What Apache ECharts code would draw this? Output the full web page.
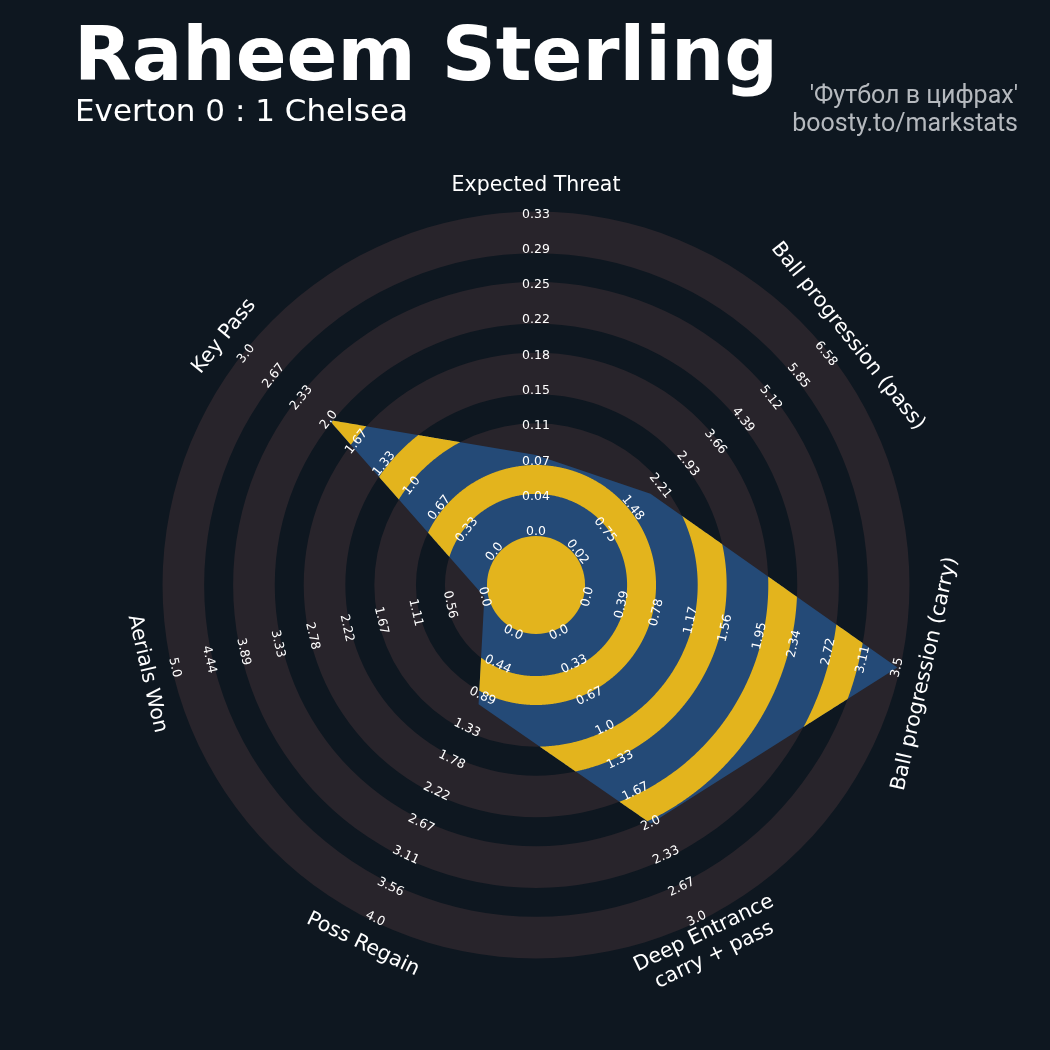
<!DOCTYPE html>
<html>
<head>
<meta charset="utf-8">
<script src="https://cdn.jsdelivr.net/npm/echarts@6/dist/echarts.min.js"></script>
<style>
  html, body { margin: 0; padding: 0; background: #0e1720; }
  #chart { width: 1050px; height: 1050px; }
</style>
</head>
<body>
<div id="chart"></div>
<script>
// radar params, clockwise from the top
const params = [
  'Expected Threat',
  'Ball progression (pass)',
  'Ball progression (carry)',
  'Deep Entrance\ncarry + pass',
  'Poss Regain',
  'Aerials Won',
  'Key Pass'
];
const values = [0.08, 1.95, 3.5, 2.0, 1.0, 0.0, 2.0];
const lowValues = [0, 0.02, 0, 0, 0, 0, 0];
const highValues = [0.33, 6.58, 3.5, 3.0, 4.0, 5.0, 3.0];
const rangeLabels = [
  ['0.0', '0.04', '0.07', '0.11', '0.15', '0.18', '0.22', '0.25', '0.29', '0.33'],
  ['0.02', '0.75', '1.48', '2.21', '2.93', '3.66', '4.39', '5.12', '5.85', '6.58'],
  ['0.0', '0.39', '0.78', '1.17', '1.56', '1.95', '2.34', '2.72', '3.11', '3.5'],
  ['0.0', '0.33', '0.67', '1.0', '1.33', '1.67', '2.0', '2.33', '2.67', '3.0'],
  ['0.0', '0.44', '0.89', '1.33', '1.78', '2.22', '2.67', '3.11', '3.56', '4.0'],
  ['0.0', '0.56', '1.11', '1.67', '2.22', '2.78', '3.33', '3.89', '4.44', '5.0'],
  ['0.0', '0.33', '0.67', '1.0', '1.33', '1.67', '2.0', '2.33', '2.67', '3.0']
];

const bgColor = '#0e1720';
const ringColor = '#28242b';
const blue = '#244a77';
const yellow = '#e3b41d';

// radius units of the polar system (1 unit = one label step)
const centerCircle = 1.39;
const zeroRadius = 1.5;
const steps = 9;
const outerRadius = 10.58;
const greyRings = [[1.39, 2.58], [3.4, 4.58], [5.4, 6.58], [7.4, 8.58], [9.4, 10.58]];
const labelRadius = 11.3;

const n = params.length;
const seg = 360 / n;
const angles = params.map((p, i) => i * seg);
const radii = values.map((v, i) => zeroRadius + steps * (v - lowValues[i]) / (highValues[i] - lowValues[i]));

function rad(d) { return d * Math.PI / 180; }
function norm(d) { return ((d % 360) + 360) % 360; }

// distance from centre to the radar polygon along angle theta
function polyRadius(theta) {
  theta = norm(theta);
  const i = Math.min(Math.floor(theta / seg), n - 1);
  const j = (i + 1) % n;
  const px = radii[i] * Math.sin(rad(angles[i])), py = radii[i] * Math.cos(rad(angles[i]));
  const qx = radii[j] * Math.sin(rad(angles[j])), qy = radii[j] * Math.cos(rad(angles[j]));
  const ex = qx - px, ey = qy - py;
  const dx = Math.sin(rad(theta)), dy = Math.cos(rad(theta));
  return (px * ey - py * ex) / (dx * ey - dy * ex);
}

const N = 240; // samples per radar edge

function crossing(a, lo, hi) {
  // lo outside (R <= a), hi inside
  for (let k = 0; k < 40; k++) {
    const mid = (lo + hi) / 2;
    if (polyRadius(mid) > a) hi = mid; else lo = mid;
  }
  return (lo + hi) / 2;
}

// pieces of the gap [a, b] that lie inside the radar polygon
function bandPieces(api, a, b) {
  const pt = (r, th) => api.coord([r, norm(th)]);
  const minR = Math.min.apply(null, radii);
  if (minR >= b) {
    return [{ type: 'ring', full: true }];
  }
  const start = angles[radii.indexOf(minR)];
  const M = n * N;
  const pieces = [];
  let cur = null, enter = 0;
  for (let s = 0; s <= M; s++) {
    const th = start + 360 * s / M;
    const inside = polyRadius(th) > a;
    if (inside && !cur) {
      enter = crossing(a, th - 360 / M, th);
      cur = [pt(a, enter)];
    }
    if (inside) {
      cur.push(pt(Math.min(polyRadius(th), b), th));
    } else if (cur) {
      const exit = crossing(a, th, th - 360 / M);
      cur.push(pt(a, exit));
      const arcSteps = Math.max(2, Math.ceil((exit - enter) / 0.5));
      for (let k = arcSteps - 1; k > 0; k--) {
        cur.push(pt(a, enter + (exit - enter) * k / arcSteps));
      }
      pieces.push(cur);
      cur = null;
    }
  }
  return pieces;
}

function textRotation(i) {
  let r = -angles[i];
  while (r <= -90) r += 180;
  while (r > 90) r -= 180;
  return rad(r);
}

function unitPx(api) {
  const c = api.coord([0, 0]);
  const p = api.coord([1, 0]);
  return { cx: c[0], cy: c[1], u: Math.hypot(p[0] - c[0], p[1] - c[1]) };
}

const chart = echarts.init(document.getElementById('chart'));

chart.setOption({
  backgroundColor: bgColor,
  animation: false,
  polar: { center: [536, 585], radius: 373.5 },
  radiusAxis: {
    type: 'value', min: 0, max: outerRadius,
    axisLine: { show: false }, axisTick: { show: false }, axisLabel: { show: false }, splitLine: { show: false }
  },
  angleAxis: {
    type: 'value', min: 0, max: 360, startAngle: 90, clockwise: true,
    axisLine: { show: false }, axisTick: { show: false }, axisLabel: { show: false }, splitLine: { show: false }
  },
  graphic: [
    { type: 'text', x: 74, y: 61, style: { text: 'Raheem Sterling', font: 'bold 75px "DejaVu Sans"', fill: '#ffffff', verticalAlign: 'middle' } },
    { type: 'text', x: 75, y: 113, style: { text: 'Everton 0 : 1 Chelsea', font: '31px "DejaVu Sans"', fill: '#ffffff', verticalAlign: 'middle' } },
    { type: 'text', x: 1018, y: 97, style: { text: "'Футбол в цифрах'", font: '25px Roboto', fill: '#b5b9be', align: 'right', verticalAlign: 'middle' } },
    { type: 'text', x: 1018, y: 125, style: { text: 'boosty.to/markstats', font: '25px Roboto', fill: '#b5b9be', align: 'right', verticalAlign: 'middle' } }
  ],
  series: [
    {
      // grey background rings
      type: 'custom', coordinateSystem: 'polar', silent: true, clip: false,
      data: [[0, 0]],
      renderItem: function (p, api) {
        const g = unitPx(api);
        return {
          type: 'group',
          children: greyRings.map(r => ({
            type: 'ring',
            shape: { cx: g.cx, cy: g.cy, r0: r[0] * g.u, r: r[1] * g.u },
            style: { fill: ringColor }
          }))
        };
      }
    },
    {
      // radar polygon in blue, the gaps between grey rings turn yellow inside it
      type: 'custom', coordinateSystem: 'polar', silent: true, clip: false,
      data: [[0, 0]],
      renderItem: function (p, api) {
        const g = unitPx(api);
        const children = [{
          type: 'polygon',
          shape: { points: radii.map((r, i) => api.coord([r, angles[i]])) },
          style: { fill: blue }
        }];
        for (let k = 0; k < greyRings.length - 1; k++) {
          const a = greyRings[k][1], b = greyRings[k + 1][0];
          bandPieces(api, a, b).forEach(piece => {
            if (piece.full) {
              children.push({ type: 'ring', shape: { cx: g.cx, cy: g.cy, r0: a * g.u, r: b * g.u }, style: { fill: yellow } });
            } else {
              children.push({ type: 'polygon', shape: { points: piece }, style: { fill: yellow } });
            }
          });
        }
        children.push({
          type: 'circle',
          shape: { cx: g.cx, cy: g.cy, r: centerCircle * g.u },
          style: { fill: yellow }
        });
        return { type: 'group', children: children };
      }
    },
    {
      // range labels and param names
      type: 'custom', coordinateSystem: 'polar', silent: true, clip: false,
      data: [[0, 0]],
      renderItem: function (p, api) {
        const children = [];
        params.forEach((name, i) => {
          const rot = textRotation(i);
          rangeLabels[i].forEach((txt, k) => {
            const pt = api.coord([zeroRadius + k, angles[i]]);
            children.push({
              type: 'text', x: pt[0], y: pt[1], rotation: rot,
              style: { text: txt, font: '12.5px "DejaVu Sans"', fill: '#ffffff', align: 'center', verticalAlign: 'middle' }
            });
          });
          const lp = api.coord([labelRadius, angles[i]]);
          children.push({
            type: 'text', x: lp[0], y: lp[1], rotation: rot,
            style: { text: name, font: '20.5px "DejaVu Sans"', lineHeight: 24, fill: '#ffffff', align: 'center', verticalAlign: 'middle' }
          });
        });
        return { type: 'group', children: children };
      }
    }
  ]
});
</script>
</body>
</html>
